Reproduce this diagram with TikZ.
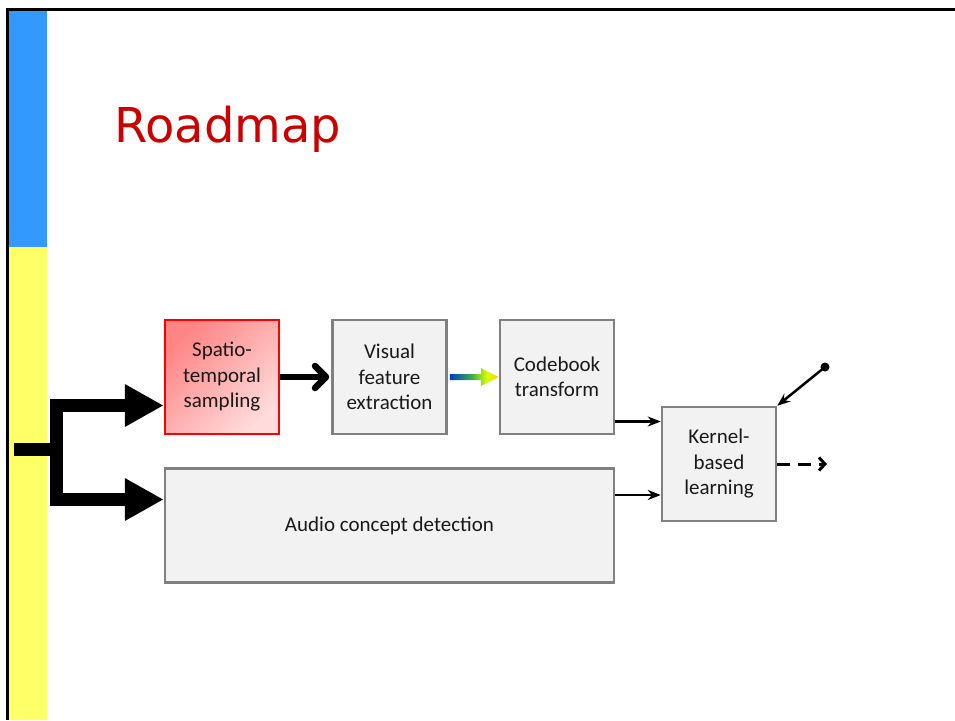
\documentclass[tikz,border=0pt]{standalone}
\usepackage{fontspec}
\setmainfont{Carlito}
\newfontfamily\titlefont{DejaVu Sans}
\usetikzlibrary{arrows.meta,positioning,calc}
\definecolor{barblue}{RGB}{51,153,255}
\definecolor{baryellow}{RGB}{255,255,102}
\definecolor{titlered}{RGB}{204,0,0}
\definecolor{spblue}{RGB}{0,60,200}
\definecolor{spgreen}{RGB}{60,170,80}
\definecolor{spyellow}{RGB}{255,205,0}
\pgfdeclarehorizontalshading{specarrow}{100bp}{color(0bp)=(spblue); color(25bp)=(spblue); color(47bp)=(spgreen); color(63bp)=(yellow!85!green); color(75bp)=(spyellow); color(100bp)=(spyellow)}
\tikzset{
  blk/.style={draw=black!50,line width=2.5pt,rectangle,minimum width=114pt,minimum height=114pt,
    fill=black!5,align=center,text=black!90,font=\fontsize{21}{25.5}\selectfont},
  hotblk/.style={blk,draw=red,top color=red!48,bottom color=red!14,shading angle=45},
  arr/.style={-{Stealth[length=13pt,width=10pt]},line width=2.5pt},
  fatarr/.style={-{Triangle[length=39pt,width=40pt]},line width=13pt},
  midarr/.style={-{Straight Barb[length=11pt,width=22pt,round]},line width=6.5pt},
  outarr/.style={-{Straight Barb[length=6pt,width=13pt]},line width=3pt,dash pattern=on 13pt off 8pt}
}
\begin{document}
\begin{tikzpicture}[x=1pt,y=-1pt,node distance=51pt]
  \useasboundingbox (0,0) rectangle (955,720);
  % side bar and frame
  \fill[barblue] (8,9) rectangle (47,247);
  \fill[baryellow] (8,247) rectangle (47,720);
  \draw[line width=3pt] (7.5,720) -- (7.5,9) -- (955,9);

  \node[anchor=base west,text=titlered,font=\titlefont\fontsize{48}{52}\selectfont,inner sep=0pt]
    (title) at (114,142) {Roadmap};

  \node[hotblk] (samp) at (222,377) {Spatio-\\temporal\\sampling};
  \node[blk, right=of samp] (vis) {Visual\\feature\\extraction};
  \node[blk, right=of vis] (code) {Codebook\\transform};
  \node[blk, below=32pt of samp.south west, anchor=north west, minimum width=449pt] (audio) {Audio concept detection};
  \node[blk] (kern) at (719,464) {Kernel-\\based\\learning};

  \coordinate (src) at (14,449.5);
  \coordinate (fork) at (56,449.5);
  \coordinate (sw) at (825,367);
  \coordinate (res) at (827,464);

  % input fork
  \draw[line width=13pt] (src) -- (fork);
  \draw[fatarr] (fork) |- ([yshift=-28.5pt]samp.west);
  \draw[fatarr] (fork) |- ([yshift=26pt]audio.west);

  \draw[midarr] (samp.east) -- ([xshift=-2pt]vis.west);
  \shade[shading=specarrow] ([xshift=2pt,yshift=3pt]vis.east) -- ++(31,0) -- ++(0,-6) -- ++(18,9)
    -- ++(-18,9) -- ++(0,-6) -- ++(-31,0) -- cycle;

  \draw[arr] ([yshift=-44.5pt]code.east) coordinate (c1) -- (c1 -| kern.west);
  \draw[arr] ([yshift=30.5pt]audio.east) coordinate (a1) -- (a1 -| kern.west);

  \fill (sw) circle (4.5);
  \draw[arr] (sw) -- (kern.north east);
  \draw[outarr] (kern.east) -- (res);
\end{tikzpicture}
\end{document}
